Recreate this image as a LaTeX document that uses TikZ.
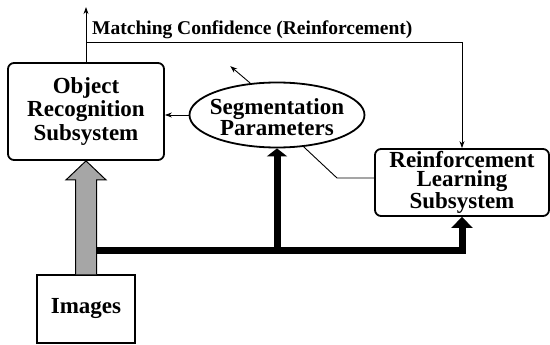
\documentclass[tikz,border=0pt]{standalone}
\usepackage{fontspec}
\setmainfont{Liberation Serif}
\usetikzlibrary{arrows.meta,calc,shapes.geometric}
\begin{document}
\begin{tikzpicture}[x=1pt,y=-1pt,
  box/.style={draw,line width=1.8pt,rounded corners=6pt,align=center,inner sep=0pt},
  boxfont/.style={font=\fontsize{23}{23.5}\selectfont\bfseries},
  thinline/.style={line width=0.9pt},
  thinarrow/.style={thinline,-{Stealth[length=7pt,width=5pt]}},
  bus/.style={line width=7pt},
]
\useasboundingbox (0,0) rectangle (550,345);
% nodes
\node[box,boxfont,minimum width=156pt,minimum height=97pt] (or) at (86,111.5) {Object\\Recognition\\Subsystem};
\node[box,font=\fontsize{23}{19}\selectfont\bfseries,minimum width=174pt,minimum height=67pt] (rl) at (462,182.5) {Reinforcement\\Learning\\Subsystem};
\node[draw,line width=1.3pt,minimum width=98pt,minimum height=68pt,inner sep=0pt,boxfont] (img) at (86,309) {Images};
\node[ellipse,draw,line width=1.8pt,minimum width=175pt,minimum height=65pt,inner sep=0pt] (seg) at (277,115) {};
\node[align=center,font=\fontsize{23}{21}\selectfont\bfseries,inner sep=0pt] (segtxt) at ($(seg)+(0,2)$) {Segmentation\\Parameters};
\node[anchor=base west,inner sep=0pt,font=\fontsize{19.5}{20}\selectfont\bfseries] (mlabel) at (92,35) {Matching Confidence (Reinforcement)};
% coordinates
\coordinate (mtop) at ($(or.north)+(0,-55)$);
\coordinate (mc) at ($(or.north)+(0,-20)$);
\coordinate (busL) at (96,250);
\coordinate (bend) at (337,178);
\coordinate (segout) at ($(seg.130)+(-20,-17)$);
% gray arrow
\path[draw,line width=1pt,fill=gray!70]
  ($(img.north)+(-10.5,0)$) -- ($(or.south)+(-10.5,19)$) -- ($(or.south)+(-20,19)$)
  -- (or.south) -- ($(or.south)+(20,19)$) -- ($(or.south)+(10.5,19)$) -- ($(img.north)+(10.5,0)$);
% thick bus
\draw[bus,-{Triangle[width=21pt,length=11pt]}] (busL) -| (rl.south);
\draw[bus,-{Triangle[width=20pt,length=8pt]}] (seg.south |- busL) -- (seg.south);
% thin connectors
\draw[thinarrow] (or.north) -- (mtop);
\draw[thinarrow] (mc) -| (rl.north);
\draw[thinarrow] (seg.west) -- (seg.west -| or.east);
\draw[thinarrow] (seg.130) -- (segout);
\draw[thinline] (seg.-50) -- (bend) -- (bend -| rl.west);
\end{tikzpicture}
\end{document}
